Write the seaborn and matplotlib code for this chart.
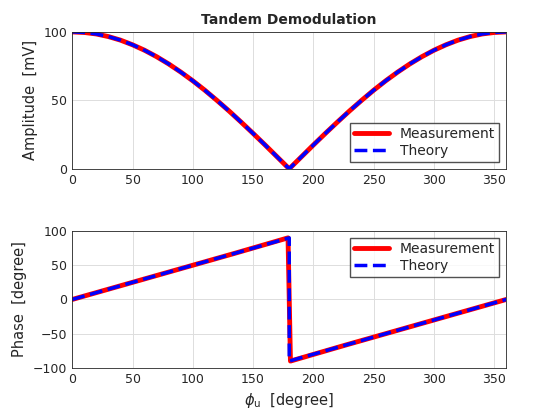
import matplotlib
matplotlib.use("Agg")
import matplotlib.pyplot as plt
import seaborn as sns

sns.set_style("white")
plt.rcParams['font.family'] = ['DejaVu Sans']

phi = [0,10,20,30,40,50,60,70,80,90,100,110,120,130,140,150,160,170,180,
       190,200,210,220,230,240,250,260,270,280,290,300,310,320,330,340,350,360]
amp = [100,99.6,98.5,96.6,94.0,90.6,86.6,81.9,76.6,70.7,64.3,57.4,50.0,42.3,34.2,25.9,17.4,8.7,0,
       8.7,17.4,25.9,34.2,42.3,50.0,57.4,64.3,70.7,76.6,81.9,86.6,90.6,94.0,96.6,98.5,99.6,100]
phase_x = [0,45,90,135,180,180,225,270,315,360]
phase_meas = [0,22.5,45,67.5,90,-90,-67.5,-45,-22.5,0]
phase_x_meas = [0,45,90,135,179,181,225,270,315,360]

fig = plt.figure(figsize=(5.6,4.2), dpi=100)
ax1 = fig.add_axes([0.129,0.598,0.775,0.326])
ax2 = fig.add_axes([0.129,0.124,0.775,0.326])

def style(ax):
    ax.grid(True, color='#dddddd', lw=0.7)
    ax.set_xlim(0,360)
    ax.set_xticks(range(0,361,50))
    for s in ax.spines.values():
        s.set_color('#262626'); s.set_linewidth(0.6)
    ax.tick_params(labelsize=9, direction='in', length=3)

kw = dict(estimator=None, sort=False)
sns.lineplot(x=phi, y=amp, ax=ax1, color='red', lw=3.5, label='Measurement', **kw)
sns.lineplot(x=phi, y=amp, ax=ax1, color='blue', lw=2.5, ls='--', label='Theory', **kw)
ax1.set_ylim(0,100); ax1.set_yticks([0,50,100])
ax1.set_ylabel('Amplitude  [mV]', fontsize=10.5)
ax1.set_title('Tandem Demodulation', fontsize=10, fontweight='bold')
ax1.legend(loc='lower right', fontsize=10, fancybox=False, edgecolor='#262626', handlelength=2.5, borderpad=0.3, labelspacing=0.2)
style(ax1)

sns.lineplot(x=phase_x_meas, y=phase_meas, ax=ax2, color='red', lw=3.5, label='Measurement', **kw)
sns.lineplot(x=phase_x, y=phase_meas, ax=ax2, color='blue', lw=2.5, ls='--', label='Theory', **kw)
ax2.set_ylim(-100,100); ax2.set_yticks([-100,-50,0,50,100])
ax2.set_ylabel('Phase  [degree]', fontsize=10.5)
ax2.set_xlabel(r'$\phi_\mathrm{u}$  [degree]', fontsize=10.5)
ax2.legend(loc='upper right', fontsize=10, fancybox=False, edgecolor='#262626', handlelength=2.5, borderpad=0.3, labelspacing=0.2)
style(ax2)

fig.savefig('out.png', dpi=100)
